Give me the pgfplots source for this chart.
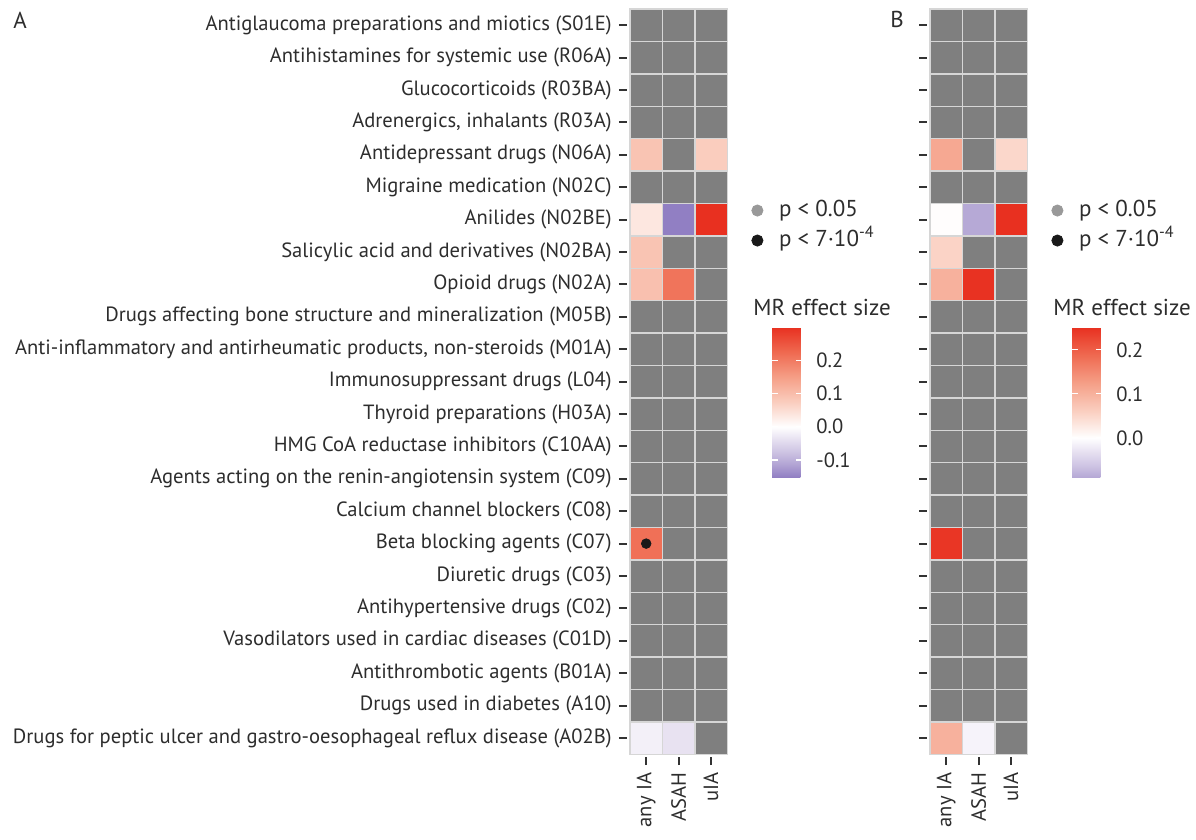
\documentclass[border=0pt]{standalone}
\usepackage{pgfplots}
\pgfplotsset{compat=1.18}
\usepackage{pgfplotstable}
\usepackage{fontspec}
\setmainfont{PT Sans}
\definecolor{naGray}{RGB}{127,127,127}
\definecolor{gridc}{RGB}{214,214,214}
\definecolor{txt}{RGB}{45,45,45}
\definecolor{tickc}{RGB}{51,51,51}
\definecolor{sigGray}{RGB}{153,153,153}
\newcommand\lbl{\fontsize{10.3bp}{12bp}\selectfont}
\newcommand\lgd{\fontsize{11.5bp}{13bp}\selectfont}
\pgfplotsset{
 colormap={cmA}{rgb255(0pt)=(145,127,195) rgb255(38pt)=(178,164,212) rgb255(76pt)=(206,196,227) rgb255(114pt)=(231,225,241) rgb255(151pt)=(255,255,255) rgb255(226pt)=(250,205,190) rgb255(301pt)=(245,158,134) rgb255(376pt)=(239,105,80) rgb255(451pt)=(232,48,32)},
 colormap={cmB}{rgb255(0pt)=(182,169,214) rgb255(26pt)=(206,196,227) rgb255(58pt)=(231,225,241) rgb255(89pt)=(255,255,255) rgb255(152pt)=(250,205,190) rgb255(215pt)=(245,158,134) rgb255(278pt)=(239,105,80) rgb255(341pt)=(232,48,32)},
 heat/.style={
  scale only axis, width=50.1bp, height=374.1bp,
  xmin=0.4074, xmax=3.5, ymin=0.4074, ymax=23.5,
  axis line style={draw=none},
  xtick={1,2,3}, xticklabels={any IA,ASAH,uIA},
  ytick={1,...,23},
  xtick pos=left, ytick pos=left,
  tick align=outside, major tick length=4bp,
  tick style={draw=tickc, line width=1bp},
  yticklabel style={font=\lbl, text=txt, inner sep=0pt, xshift=-3.5bp},
  xticklabel style={font=\lbl, text=txt, yshift=-3.5bp, rotate=90, anchor=east, inner sep=0pt},
  legend style={at={(axis description cs:1.2455,0.7106)}, anchor=west, draw=none, fill=none,
    inner sep=0pt, outer sep=0pt, font=\lgd, text=txt, column sep=8bp, row sep=4.5bp,
    nodes={inner sep=0pt, text height=8bp, text depth=2.5bp}},
  legend cell align=left,
 },
 cbar/.style={
  scale only axis, width=15bp, height=75bp,
  xmin=0, xmax=1, ymin=0, ymax=1,
  axis line style={draw=none}, xtick=\empty, ytick=\empty,
  colorbar,
  colorbar shift/.style={},
  colorbar style={
    at={(parent axis.north west)}, anchor=north west,
    scale only axis, width=15bp, height=75bp,
    axis line style={draw=none},
    ytick={-0.1,0,0.1,0.2}, yticklabels={-0.1,0.0,0.1,0.2},
    ytick pos=both, yticklabel pos=right,
    major tick length=3bp, tick align=inside,
    tick style={draw=white, line width=0.6bp},
    yticklabel style={font=\lbl, text=txt, inner sep=0pt, xshift=7bp},
    every axis title shift=0pt,
    title={MR effect size},
    title style={at={(0,1)}, anchor=base west, xshift=-9.5bp, yshift=6bp, inner sep=0pt, font=\lgd, text=txt},
  },
 },
}
\pgfplotstableread[row sep=\\]{
c r\\ 1 1\\ 2 1\\ 3 1\\ 1 2\\ 2 2\\ 3 2\\ 1 3\\ 2 3\\ 3 3\\ 1 4\\ 2 4\\ 3 4\\
2 5\\ 1 6\\ 2 6\\ 3 6\\ 2 8\\ 3 8\\ 3 9\\
1 10\\ 2 10\\ 3 10\\ 1 11\\ 2 11\\ 3 11\\ 1 12\\ 2 12\\ 3 12\\ 1 13\\ 2 13\\ 3 13\\
1 14\\ 2 14\\ 3 14\\ 1 15\\ 2 15\\ 3 15\\ 1 16\\ 2 16\\ 3 16\\ 2 17\\ 3 17\\
1 18\\ 2 18\\ 3 18\\ 1 19\\ 2 19\\ 3 19\\ 1 20\\ 2 20\\ 3 20\\ 1 21\\ 2 21\\ 3 21\\
1 22\\ 2 22\\ 3 22\\ 3 23\\
}\naCells
\pgfplotstableread{
c r v
1 5 0.090
3 5 0.075
1 7 0.036
2 7 -0.151
3 7 0.300
1 8 0.090
1 9 0.095
2 9 0.210
1 17 0.215
1 23 -0.018
2 23 -0.036
}\valA
\pgfplotstableread{
c r v
1 5 0.113
3 5 0.050
1 7 0.002
2 7 -0.089
3 7 0.252
1 8 0.055
1 9 0.100
2 9 0.250
1 17 0.245
1 23 0.100
2 23 -0.012
}\valB
\begin{document}
\begin{tikzpicture}
\useasboundingbox (0,0) rectangle (598bp,-420bp);
% Panel A
\begin{axis}[heat, at={(313.5bp,-4.5bp)}, anchor=north west,
  colormap name=cmA, point meta min=-0.151, point meta max=0.30,
  yticklabels={Drugs for peptic ulcer and gastro-oesophageal reflux disease (A02B),
  Drugs used in diabetes (A10), Antithrombotic agents (B01A),
  Vasodilators used in cardiac diseases (C01D), Antihypertensive drugs (C02),
  Diuretic drugs (C03), Beta blocking agents (C07), Calcium channel blockers (C08),
  Agents acting on the renin-angiotensin system (C09), HMG CoA reductase inhibitors (C10AA),
  Thyroid preparations (H03A), Immunosuppressant drugs (L04),
  {Anti-inflammatory and antirheumatic products, non-steroids (M01A)},
  Drugs affecting bone structure and mineralization (M05B), Opioid drugs (N02A),
  Salicylic acid and derivatives (N02BA), Anilides (N02BE), Migraine medication (N02C),
  Antidepressant drugs (N06A), {Adrenergics, inhalants (R03A)}, Glucocorticoids (R03BA),
  Antihistamines for systemic use (R06A), Antiglaucoma preparations and miotics (S01E)}]
\addplot[forget plot, only marks, mark=square*, mark size=8.1bp,
  mark options={fill=naGray, draw=gridc, line width=0.7bp}]
  table[x=c, y expr=24-\thisrow{r}] {\naCells};
\addplot[forget plot, scatter, only marks, mark=square*, mark size=8.1bp, point meta=explicit,
  scatter/use mapped color={draw=gridc, fill=mapped color, line width=0.7bp}]
  table[x=c, y expr=24-\thisrow{r}, meta=v] {\valA};
\addplot[forget plot, only marks, mark=*, mark size=2.4bp, draw=black!90, fill=black!90]
  coordinates {(1,7)};
\addlegendimage{only marks, mark=*, mark size=2.8bp, draw=sigGray, fill=sigGray}
\addlegendentry{p < 0.05}
\addlegendimage{only marks, mark=*, mark size=2.8bp, draw=black!90, fill=black!90}
\addlegendentry{p < 7·10\textsuperscript{-4}}
\end{axis}
% Panel B
\begin{axis}[heat, at={(463.5bp,-4.5bp)}, anchor=north west,
  colormap name=cmB, point meta min=-0.089, point meta max=0.252,
  yticklabels={,,,,,,,,,,,,,,,,,,,,,,}]
\addplot[forget plot, only marks, mark=square*, mark size=8.1bp,
  mark options={fill=naGray, draw=gridc, line width=0.7bp}]
  table[x=c, y expr=24-\thisrow{r}] {\naCells};
\addplot[forget plot, scatter, only marks, mark=square*, mark size=8.1bp, point meta=explicit,
  scatter/use mapped color={draw=gridc, fill=mapped color, line width=0.7bp}]
  table[x=c, y expr=24-\thisrow{r}, meta=v] {\valB};
\addlegendimage{only marks, mark=*, mark size=2.8bp, draw=sigGray, fill=sigGray}
\addlegendentry{p < 0.05}
\addlegendimage{only marks, mark=*, mark size=2.8bp, draw=black!90, fill=black!90}
\addlegendentry{p < 7·10\textsuperscript{-4}}
\end{axis}
% colour bars
\begin{axis}[cbar, at={(386bp,-163.5bp)}, anchor=north west,
  colormap name=cmA, point meta min=-0.151, point meta max=0.30]
\end{axis}
\begin{axis}[cbar, at={(536bp,-163.5bp)}, anchor=north west,
  colormap name=cmB, point meta min=-0.089, point meta max=0.252]
\end{axis}
\node[anchor=base west, inner sep=0pt, font=\lgd, text=txt] at (6.5bp,-14bp) {A};
\node[anchor=base west, inner sep=0pt, font=\lgd, text=txt] at (445bp,-13.5bp) {B};
\end{tikzpicture}
\end{document}
